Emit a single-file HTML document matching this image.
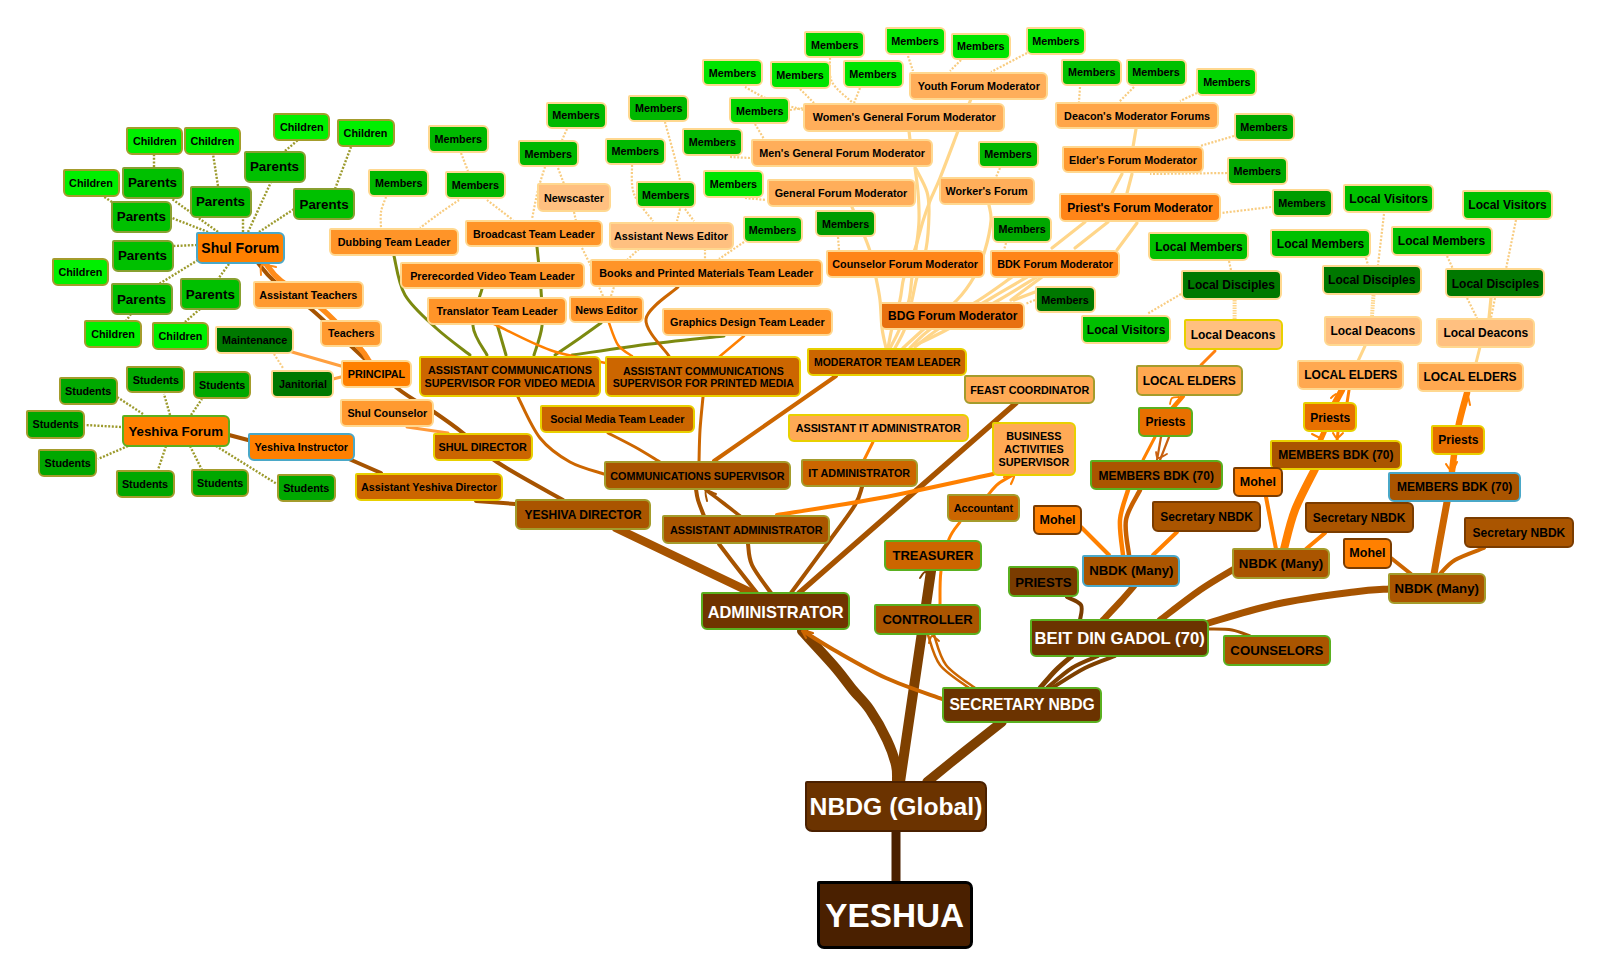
<!DOCTYPE html>
<html><head><meta charset="utf-8"><style>
html,body{margin:0;padding:0;background:#fff;}
body{width:1600px;height:973px;position:relative;overflow:hidden;font-family:"Liberation Sans",sans-serif;}
svg{position:absolute;left:0;top:0;}
.n{position:absolute;box-sizing:border-box;border:2.5px solid;border-radius:2px 6px 6px 6px;padding-top:1px;display:flex;align-items:center;justify-content:center;font-weight:bold;white-space:nowrap;text-align:center;line-height:1.18;color:#000;}
</style></head><body>

<svg width="1600" height="973" viewBox="0 0 1600 973">
<path d="M897.0 782.0 C896.8 779.2 897.7 772.0 896.0 765.0 C894.3 758.0 891.3 749.2 887.0 740.0 C882.7 730.8 875.7 718.3 870.0 710.0 C864.3 701.7 859.0 697.3 853.0 690.0 C847.0 682.7 842.5 675.8 834.0 666.0 C825.5 656.2 807.3 636.8 802.0 631.0" fill="none" stroke="#7e4000" stroke-width="10" stroke-linecap="round"/>
<path d="M900.0 782.0 L931.0 571.0" fill="none" stroke="#7e4000" stroke-width="10" stroke-linecap="round"/>
<path d="M927.0 782.0 C933.2 777.0 951.5 762.0 964.0 752.0 C976.5 742.0 995.7 727.0 1002.0 722.0" fill="none" stroke="#7e4000" stroke-width="9.5" stroke-linecap="round"/>
<path d="M896.0 832.0 L896.0 882.0" fill="none" stroke="#4a2000" stroke-width="9" stroke-linecap="round"/>
<path d="M1040.0 688.0 C1042.7 685.0 1050.7 675.3 1056.0 670.0 C1061.3 664.7 1069.3 658.3 1072.0 656.0" fill="none" stroke="#7e4000" stroke-width="5" stroke-linecap="round"/>
<path d="M1047.0 688.0 C1051.2 684.7 1063.5 673.3 1072.0 668.0 C1080.5 662.7 1093.7 658.0 1098.0 656.0" fill="none" stroke="#7e4000" stroke-width="4" stroke-linecap="round"/>
<path d="M1052.0 688.0 C1057.5 684.7 1074.5 673.3 1085.0 668.0 C1095.5 662.7 1110.0 658.0 1115.0 656.0" fill="none" stroke="#7e4000" stroke-width="4" stroke-linecap="round"/>
<path d="M969.0 688.0 C964.2 684.2 946.8 673.8 940.0 665.0 C933.2 656.2 930.0 640.0 928.0 635.0" fill="none" stroke="#cc6600" stroke-width="2.5" stroke-linecap="round"/>
<path d="M975.0 688.0 C970.2 684.2 952.8 673.8 946.0 665.0 C939.2 656.2 936.0 640.0 934.0 635.0" fill="none" stroke="#cc6600" stroke-width="2.5" stroke-linecap="round"/>
<path d="M942.0 699.0 C932.7 695.5 904.0 686.2 886.0 678.0 C868.0 669.8 847.8 657.8 834.0 650.0 C820.2 642.2 808.2 634.2 803.0 631.0" fill="none" stroke="#cc6600" stroke-width="4" stroke-linecap="round"/>
<path d="M1103.0 620.0 C1105.8 617.0 1114.8 607.7 1120.0 602.0 C1125.2 596.3 1131.7 588.7 1134.0 586.0" fill="none" stroke="#a65300" stroke-width="6.5" stroke-linecap="round"/>
<path d="M1160.0 620.0 C1166.7 615.0 1187.7 598.5 1200.0 590.0 C1212.3 581.5 1228.3 572.5 1234.0 569.0" fill="none" stroke="#a65300" stroke-width="6.5" stroke-linecap="round"/>
<path d="M1205.0 624.0 C1217.0 620.7 1252.2 609.3 1277.0 604.0 C1301.8 598.7 1335.3 594.5 1354.0 592.0 C1372.7 589.5 1383.2 589.5 1389.0 589.0" fill="none" stroke="#a65300" stroke-width="7" stroke-linecap="round"/>
<path d="M1209.0 629.0 C1212.8 629.2 1225.2 628.8 1232.0 630.0 C1238.8 631.2 1247.0 635.0 1250.0 636.0" fill="none" stroke="#a65300" stroke-width="3" stroke-linecap="round"/>
<path d="M1080.0 620.0 C1080.2 617.5 1083.2 608.8 1081.0 605.0 C1078.8 601.2 1069.3 598.3 1067.0 597.0" fill="none" stroke="#7a3c00" stroke-width="4" stroke-linecap="round"/>
<path d="M752.0 593.0 L616.0 528.0" fill="none" stroke="#a65300" stroke-width="8.5" stroke-linecap="round"/>
<path d="M563.0 500.0 C552.0 493.7 513.7 473.2 497.0 462.0 C480.3 450.8 473.5 441.3 463.0 433.0 C452.5 424.7 445.0 419.5 434.0 412.0 C423.0 404.5 410.8 399.0 397.0 388.0 C383.2 377.0 365.3 359.2 351.0 346.0 C336.7 332.8 323.8 319.8 311.0 309.0 C298.2 298.2 282.8 288.7 274.0 281.0 C265.2 273.3 260.7 266.0 258.0 263.0" fill="none" stroke="#a65300" stroke-width="4" stroke-linecap="round"/>
<path d="M369.0 361.0 C367.3 358.7 366.8 355.7 359.0 347.0 C351.2 338.3 335.0 320.0 322.0 309.0 C309.0 298.0 290.3 288.5 281.0 281.0 C271.7 273.5 268.5 266.8 266.0 264.0" fill="none" stroke="#ff8c1a" stroke-width="5.5" stroke-linecap="round"/>
<path d="M261.0 275.0 C261.2 273.3 259.5 266.3 262.0 265.0 C264.5 263.7 273.7 266.7 276.0 267.0" fill="none" stroke="#ff8c1a" stroke-width="2" stroke-linecap="round"/>
<path d="M757.0 593.0 C753.3 588.3 741.3 573.2 735.0 565.0 C728.7 556.8 721.7 547.5 719.0 544.0" fill="none" stroke="#a65300" stroke-width="4" stroke-linecap="round"/>
<path d="M771.0 593.0 C767.8 588.3 755.8 573.2 752.0 565.0 C748.2 556.8 748.7 547.5 748.0 544.0" fill="none" stroke="#a65300" stroke-width="4" stroke-linecap="round"/>
<path d="M704.0 516.0 C703.0 513.3 699.3 504.5 698.0 500.0 C696.7 495.5 696.3 490.8 696.0 489.0" fill="none" stroke="#a65300" stroke-width="4" stroke-linecap="round"/>
<path d="M740.0 516.0 C737.0 513.7 727.7 506.3 722.0 502.0 C716.3 497.7 708.7 492.0 706.0 490.0" fill="none" stroke="#a65300" stroke-width="3.5" stroke-linecap="round"/>
<path d="M791.0 593.0 C797.5 584.2 819.3 554.7 830.0 540.0 C840.7 525.3 849.7 513.8 855.0 505.0 C860.3 496.2 860.8 490.0 862.0 487.0" fill="none" stroke="#a65300" stroke-width="4" stroke-linecap="round"/>
<path d="M799.0 593.0 L1016.0 403.0" fill="none" stroke="#a65300" stroke-width="5.5" stroke-linecap="round"/>
<path d="M873.0 442.0 L864.0 460.0" fill="none" stroke="#ff8000" stroke-width="3" stroke-linecap="round"/>
<path d="M699.0 462.0 C699.2 456.7 699.3 440.8 700.0 430.0 C700.7 419.2 702.5 402.5 703.0 397.0" fill="none" stroke="#cc6600" stroke-width="3" stroke-linecap="round"/>
<path d="M714.0 461.0 L836.0 376.0" fill="none" stroke="#cc6600" stroke-width="4" stroke-linecap="round"/>
<path d="M660.0 462.0 C655.8 459.5 643.7 451.8 635.0 447.0 C626.3 442.2 612.5 435.3 608.0 433.0" fill="none" stroke="#cc6600" stroke-width="3" stroke-linecap="round"/>
<path d="M604.0 474.0 C598.3 472.0 580.7 468.0 570.0 462.0 C559.3 456.0 548.7 448.8 540.0 438.0 C531.3 427.2 521.7 403.8 518.0 397.0" fill="none" stroke="#cc6600" stroke-width="3" stroke-linecap="round"/>
<path d="M777.0 515.0 C794.2 512.2 844.0 504.8 880.0 498.0 C916.0 491.2 974.2 478.0 993.0 474.0" fill="none" stroke="#ff8000" stroke-width="4" stroke-linecap="round"/>
<path d="M988.0 495.0 C989.7 493.2 993.8 487.3 998.0 484.0 C1002.2 480.7 1010.5 476.5 1013.0 475.0" fill="none" stroke="#ff8000" stroke-width="3" stroke-linecap="round"/>
<path d="M940.0 604.0 C940.2 598.5 939.5 581.8 941.0 571.0 C942.5 560.2 945.8 547.2 949.0 539.0 C952.2 530.8 958.2 524.8 960.0 522.0" fill="none" stroke="#ff8000" stroke-width="3" stroke-linecap="round"/>
<path d="M707.0 501.0 C706.8 499.3 704.5 492.2 706.0 491.0 C707.5 489.8 714.3 493.5 716.0 494.0" fill="none" stroke="#a65300" stroke-width="2" stroke-linecap="round"/>
<path d="M806.0 638.0 C805.5 636.8 801.8 631.8 803.0 631.0 C804.2 630.2 811.3 632.7 813.0 633.0" fill="none" stroke="#cc6600" stroke-width="2.2" stroke-linecap="round"/>
<path d="M929.0 643.0 C929.5 641.8 930.3 636.3 932.0 636.0 C933.7 635.7 937.8 640.2 939.0 641.0" fill="none" stroke="#cc6600" stroke-width="2" stroke-linecap="round"/>
<path d="M1004.0 477.0 C1005.7 476.7 1012.8 473.8 1014.0 475.0 C1015.2 476.2 1011.5 482.5 1011.0 484.0" fill="none" stroke="#ff8000" stroke-width="2.2" stroke-linecap="round"/>
<path d="M920.0 578.0 C920.8 577.0 923.2 572.2 925.0 572.0 C926.8 571.8 930.0 576.2 931.0 577.0" fill="none" stroke="#7e4000" stroke-width="2" stroke-linecap="round"/>
<path d="M1462.0 404.0 C1462.8 402.3 1465.7 393.8 1467.0 394.0 C1468.3 394.2 1469.5 403.2 1470.0 405.0" fill="none" stroke="#ff8000" stroke-width="2" stroke-linecap="round"/>
<path d="M1446.0 464.0 C1447.0 465.2 1450.2 471.3 1452.0 471.0 C1453.8 470.7 1456.2 463.5 1457.0 462.0" fill="none" stroke="#ff8000" stroke-width="2" stroke-linecap="round"/>
<path d="M407.0 427.0 L448.0 433.0" fill="none" stroke="#ff9a3a" stroke-width="3" stroke-linecap="round"/>
<path d="M229.0 435.0 L248.0 440.0" fill="none" stroke="#a65300" stroke-width="4" stroke-linecap="round"/>
<path d="M349.0 459.0 L381.0 473.0" fill="none" stroke="#a65300" stroke-width="4" stroke-linecap="round"/>
<path d="M476.0 501.0 L515.0 504.0" fill="none" stroke="#a65300" stroke-width="4" stroke-linecap="round"/>
<path d="M341.0 366.0 L292.0 352.0" fill="none" stroke="#ffa040" stroke-width="3" stroke-linecap="round"/>
<path d="M341.0 377.0 L333.0 379.0" fill="none" stroke="#ffa040" stroke-width="3" stroke-linecap="round"/>
<path d="M394.0 256.0 C395.8 262.5 398.0 283.0 405.0 295.0 C412.0 307.0 425.2 318.0 436.0 328.0 C446.8 338.0 464.3 350.5 470.0 355.0" fill="none" stroke="#7c8a10" stroke-width="3" stroke-linecap="round"/>
<path d="M487.0 355.0 C484.7 350.2 473.8 337.0 473.0 326.0 C472.2 315.0 480.5 295.2 482.0 289.0" fill="none" stroke="#7c8a10" stroke-width="3" stroke-linecap="round"/>
<path d="M506.0 355.0 L497.0 324.0" fill="none" stroke="#7c8a10" stroke-width="3" stroke-linecap="round"/>
<path d="M534.0 355.0 C535.3 350.2 540.8 336.8 542.0 326.0 C543.2 315.2 541.8 303.2 541.0 290.0 C540.2 276.8 537.7 254.2 537.0 247.0" fill="none" stroke="#7c8a10" stroke-width="3" stroke-linecap="round"/>
<path d="M555.0 355.0 C559.2 352.2 572.3 343.3 580.0 338.0 C587.7 332.7 597.5 325.5 601.0 323.0" fill="none" stroke="#7c8a10" stroke-width="3" stroke-linecap="round"/>
<path d="M572.0 355.0 C585.0 353.2 624.7 347.2 650.0 344.0 C675.3 340.8 711.7 337.3 724.0 336.0" fill="none" stroke="#7c8a10" stroke-width="3" stroke-linecap="round"/>
<path d="M494.0 324.0 C503.3 328.3 531.3 343.5 550.0 350.0 C568.7 356.5 596.7 360.8 606.0 363.0" fill="none" stroke="#ff8000" stroke-width="2.5" stroke-linecap="round"/>
<path d="M609.0 323.0 C610.5 326.7 614.2 339.5 618.0 345.0 C621.8 350.5 629.7 354.2 632.0 356.0" fill="none" stroke="#ff8000" stroke-width="2.5" stroke-linecap="round"/>
<path d="M678.0 287.0 C672.7 292.3 647.5 307.5 646.0 319.0 C644.5 330.5 665.2 349.8 669.0 356.0" fill="none" stroke="#cc6600" stroke-width="3" stroke-linecap="round"/>
<path d="M744.0 336.0 L719.0 357.0" fill="none" stroke="#ff8000" stroke-width="2.5" stroke-linecap="round"/>
<path d="M971.0 99.0 L969.0 104.0" fill="none" stroke="#ffd68a" stroke-width="3.2" stroke-linecap="round"/>
<path d="M909.0 131.0 L910.0 140.0" fill="none" stroke="#ffd68a" stroke-width="3.2" stroke-linecap="round"/>
<path d="M1136.0 129.0 L1133.0 147.0" fill="none" stroke="#ffd68a" stroke-width="3.2" stroke-linecap="round"/>
<path d="M852.0 207.0 C854.8 213.8 865.0 236.2 869.0 248.0 C873.0 259.8 874.2 269.3 876.0 278.0 C877.8 286.7 879.0 291.7 880.0 300.0 C881.0 308.3 881.0 320.0 882.0 328.0 C883.0 336.0 885.3 344.7 886.0 348.0" fill="none" stroke="#ffd68a" stroke-width="3.2" stroke-linecap="round"/>
<path d="M958.0 131.0 C955.0 138.8 944.7 166.3 940.0 178.0 C935.3 189.7 932.8 193.8 930.0 201.0 C927.2 208.2 925.5 213.0 923.0 221.0 C920.5 229.0 918.2 239.7 915.0 249.0 C911.8 258.3 906.5 268.5 904.0 277.0 C901.5 285.5 902.0 291.5 900.0 300.0 C898.0 308.5 894.0 320.0 892.0 328.0 C890.0 336.0 888.7 344.7 888.0 348.0" fill="none" stroke="#ffd68a" stroke-width="3.2" stroke-linecap="round"/>
<path d="M915.0 168.0 C915.5 172.0 917.3 183.2 918.0 192.0 C918.7 200.8 919.3 211.5 919.0 221.0 C918.7 230.5 917.2 239.7 916.0 249.0 C914.8 258.3 913.2 268.5 912.0 277.0 C910.8 285.5 911.0 291.5 909.0 300.0 C907.0 308.5 903.2 320.0 900.0 328.0 C896.8 336.0 891.7 344.7 890.0 348.0" fill="none" stroke="#ffd68a" stroke-width="3.2" stroke-linecap="round"/>
<path d="M916.0 169.0 C917.8 172.8 924.8 184.5 927.0 192.0 C929.2 199.5 929.2 204.5 929.0 214.0 C928.8 223.5 928.0 238.5 926.0 249.0 C924.0 259.5 919.3 268.5 917.0 277.0 C914.7 285.5 914.0 291.5 912.0 300.0 C910.0 308.5 907.8 320.0 905.0 328.0 C902.2 336.0 896.7 344.7 895.0 348.0" fill="none" stroke="#ffd68a" stroke-width="3.2" stroke-linecap="round"/>
<path d="M989.0 205.0 C989.3 207.7 991.7 213.5 991.0 221.0 C990.3 228.5 987.8 240.7 985.0 250.0 C982.2 259.3 978.7 268.7 974.0 277.0 C969.3 285.3 965.2 291.5 957.0 300.0 C948.8 308.5 934.0 320.0 925.0 328.0 C916.0 336.0 906.7 344.7 903.0 348.0" fill="none" stroke="#ffd68a" stroke-width="3.2" stroke-linecap="round"/>
<path d="M1122.0 174.0 L1112.0 193.0" fill="none" stroke="#ffd68a" stroke-width="3.2" stroke-linecap="round"/>
<path d="M1132.0 174.0 L1127.0 193.0" fill="none" stroke="#ffd68a" stroke-width="3.2" stroke-linecap="round"/>
<path d="M1085.0 222.0 L1052.0 248.0" fill="none" stroke="#ffd68a" stroke-width="3.2" stroke-linecap="round"/>
<path d="M1108.0 222.0 L1075.0 248.0" fill="none" stroke="#ffd68a" stroke-width="3.2" stroke-linecap="round"/>
<path d="M1137.0 223.0 L1117.0 250.0" fill="none" stroke="#ffd68a" stroke-width="3.2" stroke-linecap="round"/>
<path d="M1012.0 277.0 C1006.5 280.8 992.3 291.5 979.0 300.0 C965.7 308.5 943.5 320.0 932.0 328.0 C920.5 336.0 913.7 344.7 910.0 348.0" fill="none" stroke="#ffd68a" stroke-width="3.2" stroke-linecap="round"/>
<path d="M1027.0 277.0 C1020.5 280.8 1002.5 291.5 988.0 300.0 C973.5 308.5 952.2 320.2 940.0 328.0 C927.8 335.8 919.2 343.8 915.0 347.0" fill="none" stroke="#ffd68a" stroke-width="3.2" stroke-linecap="round"/>
<path d="M1037.0 277.0 C1030.7 280.8 1013.5 291.5 999.0 300.0 C984.5 308.5 963.8 320.5 950.0 328.0 C936.2 335.5 921.7 342.2 916.0 345.0" fill="none" stroke="#ffd68a" stroke-width="3.2" stroke-linecap="round"/>
<path d="M1042.0 277.0 L1011.0 300.0" fill="none" stroke="#ffd68a" stroke-width="3.2" stroke-linecap="round"/>
<path d="M1035.0 292.0 L1014.0 300.0" fill="none" stroke="#ffd68a" stroke-width="3.2" stroke-linecap="round"/>
<path d="M1234.6 300.0 L1234.6 319.0" fill="none" stroke="#ffd68a" stroke-width="4" stroke-dasharray="1.5 1"/>
<path d="M1373.5 295.0 L1372.0 316.0" fill="none" stroke="#ffd68a" stroke-width="4" stroke-dasharray="1.5 1"/>
<path d="M1491.0 298.0 L1489.0 318.0" fill="none" stroke="#ffd68a" stroke-width="3.2" stroke-linecap="round"/>
<path d="M1215.0 351.0 L1201.0 365.0" fill="none" stroke="#ff8010" stroke-width="3" stroke-linecap="round"/>
<path d="M1365.0 346.0 L1358.0 361.0" fill="none" stroke="#ffd68a" stroke-width="3" stroke-linecap="round"/>
<path d="M1480.0 347.0 L1476.0 363.0" fill="none" stroke="#ffd68a" stroke-width="3" stroke-linecap="round"/>
<path d="M1183.0 396.0 L1171.0 410.0" fill="none" stroke="#ff8000" stroke-width="4.5" stroke-linecap="round"/>
<path d="M1170.0 404.0 C1170.3 403.0 1170.5 399.2 1172.0 398.0 C1173.5 396.8 1177.8 397.2 1179.0 397.0" fill="none" stroke="#ff8000" stroke-width="1.8" stroke-linecap="round"/>
<path d="M1155.0 437.0 L1143.0 460.0" fill="none" stroke="#ff8000" stroke-width="3" stroke-linecap="round"/>
<path d="M1161.0 437.0 L1157.0 460.0" fill="none" stroke="#c86010" stroke-width="2.2" stroke-linecap="round"/>
<path d="M1169.0 437.0 L1160.0 460.0" fill="none" stroke="#c86010" stroke-width="2.2" stroke-linecap="round"/>
<path d="M1156.0 452.0 C1156.3 453.0 1156.2 457.7 1158.0 458.0 C1159.8 458.3 1165.5 454.7 1167.0 454.0" fill="none" stroke="#c86010" stroke-width="1.8" stroke-linecap="round"/>
<path d="M1342.0 390.0 L1335.0 403.0" fill="none" stroke="#ff8000" stroke-width="6.5" stroke-linecap="round"/>
<path d="M1349.0 390.0 L1347.0 403.0" fill="none" stroke="#ff8000" stroke-width="3" stroke-linecap="round"/>
<path d="M1331.0 398.0 C1331.3 397.7 1332.2 396.7 1333.0 396.0 C1333.8 395.3 1335.5 394.3 1336.0 394.0" fill="none" stroke="#ff8000" stroke-width="2" stroke-linecap="round"/>
<path d="M1324.0 432.0 L1320.0 441.0" fill="none" stroke="#ff8000" stroke-width="5.5" stroke-linecap="round"/>
<path d="M1338.0 432.0 L1337.0 441.0" fill="none" stroke="#ff8000" stroke-width="3" stroke-linecap="round"/>
<path d="M1312.0 434.0 L1320.0 438.0" fill="none" stroke="#ff8000" stroke-width="2" stroke-linecap="round"/>
<path d="M1333.0 433.0 C1333.7 433.8 1335.3 438.0 1337.0 438.0 C1338.7 438.0 1342.0 433.8 1343.0 433.0" fill="none" stroke="#ff8000" stroke-width="2" stroke-linecap="round"/>
<path d="M1467.0 393.0 C1465.5 398.8 1460.5 415.0 1458.0 428.0 C1455.5 441.0 1453.0 463.8 1452.0 471.0" fill="none" stroke="#ff8000" stroke-width="6.5" stroke-linecap="round"/>
<path d="M1447.0 502.0 C1445.8 508.3 1442.2 528.0 1440.0 540.0 C1437.8 552.0 1435.0 568.3 1434.0 574.0" fill="none" stroke="#cc6600" stroke-width="7" stroke-linecap="round"/>
<path d="M1484.0 548.0 C1479.2 550.0 1462.3 555.7 1455.0 560.0 C1447.7 564.3 1442.5 571.7 1440.0 574.0" fill="none" stroke="#cc6600" stroke-width="4" stroke-linecap="round"/>
<path d="M1391.0 558.0 L1411.0 574.0" fill="none" stroke="#cc6600" stroke-width="4" stroke-linecap="round"/>
<path d="M1315.0 469.0 C1311.7 475.8 1300.2 496.7 1295.0 510.0 C1289.8 523.3 1285.8 542.5 1284.0 549.0" fill="none" stroke="#ff8000" stroke-width="8" stroke-linecap="round"/>
<path d="M1266.0 497.0 L1276.0 549.0" fill="none" stroke="#ff8000" stroke-width="4" stroke-linecap="round"/>
<path d="M1325.0 533.0 L1306.0 549.0" fill="none" stroke="#ff8000" stroke-width="4" stroke-linecap="round"/>
<path d="M1081.0 527.0 L1109.0 555.0" fill="none" stroke="#ff8000" stroke-width="4" stroke-linecap="round"/>
<path d="M1128.0 490.0 C1126.7 495.0 1120.8 509.2 1120.0 520.0 C1119.2 530.8 1122.5 549.2 1123.0 555.0" fill="none" stroke="#ff8000" stroke-width="4.5" stroke-linecap="round"/>
<path d="M1140.0 490.0 C1137.7 495.0 1127.8 509.2 1126.0 520.0 C1124.2 530.8 1128.5 549.2 1129.0 555.0" fill="none" stroke="#c86000" stroke-width="4.5" stroke-linecap="round"/>
<path d="M1177.0 532.0 L1153.0 555.0" fill="none" stroke="#ff8000" stroke-width="4" stroke-linecap="round"/>
<path d="M248.0 232.0 L271.0 182.0" fill="none" stroke="#9c9a2c" stroke-width="2.4" stroke-dasharray="2 1.6"/>
<path d="M259.0 232.0 L294.0 209.0" fill="none" stroke="#9c9a2c" stroke-width="2.4" stroke-dasharray="2 1.6"/>
<path d="M243.0 232.0 L243.0 217.0" fill="none" stroke="#9c9a2c" stroke-width="2.4" stroke-dasharray="2 1.6"/>
<path d="M218.0 232.0 L172.0 199.0" fill="none" stroke="#9c9a2c" stroke-width="2.4" stroke-dasharray="2 1.6"/>
<path d="M208.0 232.0 L172.0 218.0" fill="none" stroke="#9c9a2c" stroke-width="2.4" stroke-dasharray="2 1.6"/>
<path d="M197.0 245.0 L173.0 246.0" fill="none" stroke="#9c9a2c" stroke-width="2.4" stroke-dasharray="2 1.6"/>
<path d="M198.0 260.0 L159.0 284.0" fill="none" stroke="#9c9a2c" stroke-width="2.4" stroke-dasharray="2 1.6"/>
<path d="M229.0 264.0 L218.0 279.0" fill="none" stroke="#9c9a2c" stroke-width="2.4" stroke-dasharray="2 1.6"/>
<path d="M154.0 167.0 L154.0 155.0" fill="none" stroke="#9c9a2c" stroke-width="2.4" stroke-dasharray="2 1.6"/>
<path d="M218.0 186.0 L213.0 154.0" fill="none" stroke="#9c9a2c" stroke-width="2.4" stroke-dasharray="2 1.6"/>
<path d="M285.0 151.0 L298.0 140.0" fill="none" stroke="#9c9a2c" stroke-width="2.4" stroke-dasharray="2 1.6"/>
<path d="M335.0 189.0 L351.0 147.0" fill="none" stroke="#9c9a2c" stroke-width="2.4" stroke-dasharray="2 1.6"/>
<path d="M112.0 202.0 L103.0 196.0" fill="none" stroke="#9c9a2c" stroke-width="2.4" stroke-dasharray="2 1.6"/>
<path d="M131.0 314.0 L126.0 321.0" fill="none" stroke="#9c9a2c" stroke-width="2.4" stroke-dasharray="2 1.6"/>
<path d="M200.0 309.0 L185.0 322.0" fill="none" stroke="#9c9a2c" stroke-width="2.4" stroke-dasharray="2 1.6"/>
<path d="M143.0 414.0 L117.0 397.0" fill="none" stroke="#9c9a2c" stroke-width="2.4" stroke-dasharray="2 1.6"/>
<path d="M170.0 415.0 L164.0 394.0" fill="none" stroke="#9c9a2c" stroke-width="2.4" stroke-dasharray="2 1.6"/>
<path d="M191.0 415.0 L202.0 399.0" fill="none" stroke="#9c9a2c" stroke-width="2.4" stroke-dasharray="2 1.6"/>
<path d="M121.0 427.0 L85.0 425.0" fill="none" stroke="#9c9a2c" stroke-width="2.4" stroke-dasharray="2 1.6"/>
<path d="M128.0 446.0 L98.0 459.0" fill="none" stroke="#9c9a2c" stroke-width="2.4" stroke-dasharray="2 1.6"/>
<path d="M166.0 446.0 L158.0 470.0" fill="none" stroke="#9c9a2c" stroke-width="2.4" stroke-dasharray="2 1.6"/>
<path d="M190.0 446.0 L202.0 470.0" fill="none" stroke="#9c9a2c" stroke-width="2.4" stroke-dasharray="2 1.6"/>
<path d="M216.0 446.0 L277.0 484.0" fill="none" stroke="#9c9a2c" stroke-width="2.4" stroke-dasharray="2 1.6"/>
<path d="M386.0 197.0 C385.2 199.5 381.8 206.8 381.0 212.0 C380.2 217.2 381.0 225.3 381.0 228.0" fill="none" stroke="#f8cc80" stroke-width="2.2" stroke-dasharray="2 1.6"/>
<path d="M459.0 200.0 C455.8 202.2 446.5 208.3 440.0 213.0 C433.5 217.7 423.3 225.5 420.0 228.0" fill="none" stroke="#f8cc80" stroke-width="2.2" stroke-dasharray="2 1.6"/>
<path d="M487.0 200.0 C489.2 201.7 495.7 206.7 500.0 210.0 C504.3 213.3 510.8 218.3 513.0 220.0" fill="none" stroke="#f8cc80" stroke-width="2.2" stroke-dasharray="2 1.6"/>
<path d="M461.0 153.0 L468.0 171.0" fill="none" stroke="#f8cc80" stroke-width="2.2" stroke-dasharray="2 1.6"/>
<path d="M545.0 167.0 C543.8 170.8 540.2 181.3 538.0 190.0 C535.8 198.7 533.0 214.2 532.0 219.0" fill="none" stroke="#f8cc80" stroke-width="2.2" stroke-dasharray="2 1.6"/>
<path d="M558.0 168.0 L564.0 184.0" fill="none" stroke="#f8cc80" stroke-width="2.2" stroke-dasharray="2 1.6"/>
<path d="M567.0 129.0 L562.0 140.0" fill="none" stroke="#f8cc80" stroke-width="2.2" stroke-dasharray="2 1.6"/>
<path d="M574.0 212.0 L576.0 221.0" fill="none" stroke="#f8cc80" stroke-width="2.2" stroke-dasharray="2 1.6"/>
<path d="M582.0 248.0 L591.0 266.0" fill="none" stroke="#f8cc80" stroke-width="2.2" stroke-dasharray="2 1.6"/>
<path d="M603.0 296.0 L599.0 287.0" fill="none" stroke="#f8cc80" stroke-width="2.2" stroke-dasharray="2 1.6"/>
<path d="M611.0 296.0 L614.0 287.0" fill="none" stroke="#f8cc80" stroke-width="2.2" stroke-dasharray="2 1.6"/>
<path d="M665.0 122.0 C667.5 131.7 677.5 165.5 680.0 180.0 C682.5 194.5 680.0 204.2 680.0 209.0" fill="none" stroke="#f8cc80" stroke-width="2.2" stroke-dasharray="2 1.6"/>
<path d="M680.0 209.0 L677.0 221.0" fill="none" stroke="#f8cc80" stroke-width="2.2" stroke-dasharray="2 1.6"/>
<path d="M632.0 165.0 C632.3 169.8 630.5 184.7 634.0 194.0 C637.5 203.3 649.8 216.5 653.0 221.0" fill="none" stroke="#f8cc80" stroke-width="2.2" stroke-dasharray="2 1.6"/>
<path d="M685.0 209.0 L694.0 221.0" fill="none" stroke="#f8cc80" stroke-width="2.2" stroke-dasharray="2 1.6"/>
<path d="M730.0 157.0 L750.0 158.0" fill="none" stroke="#f8cc80" stroke-width="2.2" stroke-dasharray="2 1.6"/>
<path d="M755.0 124.0 L764.0 139.0" fill="none" stroke="#f8cc80" stroke-width="2.2" stroke-dasharray="2 1.6"/>
<path d="M745.0 198.0 L766.0 200.0" fill="none" stroke="#f8cc80" stroke-width="2.2" stroke-dasharray="2 1.6"/>
<path d="M745.0 87.0 C749.2 89.2 760.3 96.2 770.0 100.0 C779.7 103.8 797.5 108.3 803.0 110.0" fill="none" stroke="#f8cc80" stroke-width="2.2" stroke-dasharray="2 1.6"/>
<path d="M800.0 89.0 L814.0 103.0" fill="none" stroke="#f8cc80" stroke-width="2.2" stroke-dasharray="2 1.6"/>
<path d="M860.0 88.0 L854.0 103.0" fill="none" stroke="#f8cc80" stroke-width="2.2" stroke-dasharray="2 1.6"/>
<path d="M830.0 58.0 C830.3 62.0 828.2 74.5 832.0 82.0 C835.8 89.5 849.5 99.5 853.0 103.0" fill="none" stroke="#f8cc80" stroke-width="2.2" stroke-dasharray="2 1.6"/>
<path d="M908.0 56.0 L913.0 71.0" fill="none" stroke="#f8cc80" stroke-width="2.2" stroke-dasharray="2 1.6"/>
<path d="M961.0 60.0 L950.0 71.0" fill="none" stroke="#f8cc80" stroke-width="2.2" stroke-dasharray="2 1.6"/>
<path d="M1027.0 53.0 L991.0 72.0" fill="none" stroke="#f8cc80" stroke-width="2.2" stroke-dasharray="2 1.6"/>
<path d="M790.0 110.0 L804.0 108.0" fill="none" stroke="#f8cc80" stroke-width="2.2" stroke-dasharray="2 1.6"/>
<path d="M1080.0 87.0 L1079.0 102.0" fill="none" stroke="#f8cc80" stroke-width="2.2" stroke-dasharray="2 1.6"/>
<path d="M1134.0 87.0 L1119.0 102.0" fill="none" stroke="#f8cc80" stroke-width="2.2" stroke-dasharray="2 1.6"/>
<path d="M1197.0 93.0 L1180.0 101.0" fill="none" stroke="#f8cc80" stroke-width="2.2" stroke-dasharray="2 1.6"/>
<path d="M1234.0 136.0 L1200.0 146.0" fill="none" stroke="#f8cc80" stroke-width="2.2" stroke-dasharray="2 1.6"/>
<path d="M1227.0 173.0 L1150.0 174.0" fill="none" stroke="#f8cc80" stroke-width="2.2" stroke-dasharray="2 1.6"/>
<path d="M1271.0 207.0 L1221.0 213.0" fill="none" stroke="#f8cc80" stroke-width="2.2" stroke-dasharray="2 1.6"/>
<path d="M1000.0 168.0 L996.0 177.0" fill="none" stroke="#f8cc80" stroke-width="2.2" stroke-dasharray="2 1.6"/>
<path d="M1006.0 243.0 L1004.0 250.0" fill="none" stroke="#f8cc80" stroke-width="2.2" stroke-dasharray="2 1.6"/>
<path d="M1035.0 300.0 L1025.0 304.0" fill="none" stroke="#f8cc80" stroke-width="2.2" stroke-dasharray="2 1.6"/>
<path d="M639.0 249.0 L627.0 260.0" fill="none" stroke="#f8cc80" stroke-width="2.2" stroke-dasharray="2 1.6"/>
<path d="M705.0 249.0 L705.0 260.0" fill="none" stroke="#f8cc80" stroke-width="2.2" stroke-dasharray="2 1.6"/>
<path d="M1181.0 294.0 L1147.0 314.0" fill="none" stroke="#f8cc80" stroke-width="2.2" stroke-dasharray="2 1.6"/>
<path d="M1384.0 214.0 L1378.0 265.0" fill="none" stroke="#f8cc80" stroke-width="2.2" stroke-dasharray="2 1.6"/>
<path d="M1366.0 258.0 L1368.0 265.0" fill="none" stroke="#f8cc80" stroke-width="2.2" stroke-dasharray="2 1.6"/>
<path d="M1516.0 220.0 L1506.0 269.0" fill="none" stroke="#f8cc80" stroke-width="2.2" stroke-dasharray="2 1.6"/>
<path d="M1447.0 256.0 L1453.0 269.0" fill="none" stroke="#f8cc80" stroke-width="2.2" stroke-dasharray="2 1.6"/>
<path d="M1467.0 298.0 L1477.0 318.0" fill="none" stroke="#f8cc80" stroke-width="2.2" stroke-dasharray="2 1.6"/>
<path d="M1495.0 298.0 L1491.0 318.0" fill="none" stroke="#f8cc80" stroke-width="2.2" stroke-dasharray="2 1.6"/>
<path d="M1229.0 261.0 L1231.0 270.0" fill="none" stroke="#f8cc80" stroke-width="2.2" stroke-dasharray="2 1.6"/>
<path d="M274.0 354.0 L283.0 368.0" fill="none" stroke="#f8cc80" stroke-width="2.2" stroke-dasharray="2 1.6"/>
<path d="M838.0 237.0 L839.0 250.0" fill="none" stroke="#f8cc80" stroke-width="2.2" stroke-dasharray="2 1.6"/>
<path d="M744.0 242.0 L719.0 259.0" fill="none" stroke="#f8cc80" stroke-width="2.2" stroke-dasharray="2 1.6"/>
</svg>
<div class="n" style="left:126.10px;top:127.20px;width:57.40px;height:28.00px;background:#00f000;border-color:#a49c2c;font-size:10.8px">Children</div>
<div class="n" style="left:183.50px;top:126.50px;width:57.70px;height:28.00px;background:#00f000;border-color:#a49c2c;font-size:10.8px">Children</div>
<div class="n" style="left:273.10px;top:112.90px;width:57.40px;height:28.20px;background:#00f000;border-color:#a49c2c;font-size:10.8px">Children</div>
<div class="n" style="left:336.50px;top:118.90px;width:58.00px;height:28.60px;background:#00f000;border-color:#a49c2c;font-size:10.8px">Children</div>
<div class="n" style="left:62.50px;top:168.50px;width:57.00px;height:28.00px;background:#00f000;border-color:#a49c2c;font-size:10.8px">Children</div>
<div class="n" style="left:121.50px;top:166.50px;width:62.00px;height:32.00px;background:#00c000;border-color:#88a030;font-size:13.4px">Parents</div>
<div class="n" style="left:189.50px;top:185.50px;width:62.00px;height:32.00px;background:#00c000;border-color:#88a030;font-size:13.4px">Parents</div>
<div class="n" style="left:243.50px;top:150.50px;width:62.00px;height:32.00px;background:#00c000;border-color:#88a030;font-size:13.4px">Parents</div>
<div class="n" style="left:293.10px;top:188.10px;width:61.90px;height:32.40px;background:#00c000;border-color:#88a030;font-size:13.4px">Parents</div>
<div class="n" style="left:110.50px;top:201.00px;width:61.60px;height:31.50px;background:#00c000;border-color:#88a030;font-size:13.4px">Parents</div>
<div class="n" style="left:196.00px;top:231.50px;width:88.50px;height:32.60px;background:#ff8000;border-color:#4aa8c8;font-size:14px">Shul Forum</div>
<div class="n" style="left:111.50px;top:239.50px;width:62.00px;height:32.00px;background:#00c000;border-color:#88a030;font-size:13.4px">Parents</div>
<div class="n" style="left:51.50px;top:257.50px;width:57.70px;height:28.00px;background:#00f000;border-color:#a49c2c;font-size:10.8px">Children</div>
<div class="n" style="left:110.50px;top:283.20px;width:62.00px;height:31.80px;background:#00c000;border-color:#88a030;font-size:13.4px">Parents</div>
<div class="n" style="left:179.50px;top:278.00px;width:61.70px;height:31.90px;background:#00c000;border-color:#88a030;font-size:13.4px">Parents</div>
<div class="n" style="left:84.30px;top:320.10px;width:57.50px;height:27.90px;background:#00f000;border-color:#a49c2c;font-size:10.8px">Children</div>
<div class="n" style="left:151.80px;top:322.10px;width:57.30px;height:28.00px;background:#00f000;border-color:#a49c2c;font-size:10.8px">Children</div>
<div class="n" style="left:214.80px;top:326.00px;width:79.70px;height:27.50px;background:#007800;border-color:#ffd890;font-size:10.8px">Maintenance</div>
<div class="n" style="left:271.30px;top:369.50px;width:63.20px;height:28.00px;background:#007800;border-color:#ffd890;font-size:10.8px">Janitorial</div>
<div class="n" style="left:252.50px;top:280.50px;width:111.50px;height:28.00px;background:#ff9a30;border-color:#ffd890;font-size:10.8px">Assistant Teachers</div>
<div class="n" style="left:320.10px;top:319.50px;width:62.40px;height:27.40px;background:#ff9a30;border-color:#ffd890;font-size:10.8px">Teachers</div>
<div class="n" style="left:341.30px;top:359.50px;width:70.40px;height:28.00px;background:#ff8000;border-color:#ffd890;font-size:10.8px">PRINCIPAL</div>
<div class="n" style="left:340.30px;top:398.90px;width:94.00px;height:28.00px;background:#ff9a30;border-color:#ffd890;font-size:10.8px">Shul Counselor</div>
<div class="n" style="left:432.50px;top:432.90px;width:100.40px;height:28.00px;background:#cc6600;border-color:#e8d000;font-size:10.8px">SHUL DIRECTOR</div>
<div class="n" style="left:58.50px;top:376.50px;width:59.40px;height:28.60px;background:#00a800;border-color:#a49c2c;font-size:10.8px">Students</div>
<div class="n" style="left:126.20px;top:365.80px;width:59.30px;height:27.70px;background:#00a800;border-color:#a49c2c;font-size:10.8px">Students</div>
<div class="n" style="left:192.90px;top:370.90px;width:58.60px;height:28.60px;background:#00a800;border-color:#a49c2c;font-size:10.8px">Students</div>
<div class="n" style="left:26.00px;top:410.00px;width:59.30px;height:28.50px;background:#00a800;border-color:#a49c2c;font-size:10.8px">Students</div>
<div class="n" style="left:121.50px;top:415.10px;width:108.40px;height:31.90px;background:#ff8000;border-color:#5ab020;font-size:13.3px">Yeshiva Forum</div>
<div class="n" style="left:38.00px;top:448.50px;width:59.40px;height:28.00px;background:#00a800;border-color:#a49c2c;font-size:10.8px">Students</div>
<div class="n" style="left:115.50px;top:469.50px;width:59.00px;height:28.30px;background:#00a800;border-color:#a49c2c;font-size:10.8px">Students</div>
<div class="n" style="left:190.90px;top:469.10px;width:58.60px;height:28.40px;background:#00a800;border-color:#a49c2c;font-size:10.8px">Students</div>
<div class="n" style="left:277.00px;top:473.50px;width:58.50px;height:28.00px;background:#00a800;border-color:#a49c2c;font-size:10.8px">Students</div>
<div class="n" style="left:247.50px;top:432.50px;width:107.50px;height:28.60px;background:#ff8000;border-color:#4aa8c8;font-size:10.8px">Yeshiva Instructor</div>
<div class="n" style="left:354.90px;top:472.70px;width:148.00px;height:28.50px;background:#cc6600;border-color:#e8d000;font-size:10.8px">Assistant Yeshiva Director</div>
<div class="n" style="left:515.00px;top:498.50px;width:136.30px;height:31.20px;background:#aa5500;border-color:#a49c2c;font-size:12px">YESHIVA DIRECTOR</div>
<div class="n" style="left:368.30px;top:169.10px;width:61.00px;height:28.00px;background:#00b800;border-color:#ffd890;font-size:10.8px">Members</div>
<div class="n" style="left:427.50px;top:124.90px;width:61.40px;height:28.20px;background:#00b800;border-color:#ffd890;font-size:10.8px">Members</div>
<div class="n" style="left:444.50px;top:170.50px;width:61.70px;height:28.00px;background:#00b800;border-color:#ffd890;font-size:10.8px">Members</div>
<div class="n" style="left:517.50px;top:139.50px;width:61.40px;height:27.80px;background:#00b800;border-color:#ffd890;font-size:10.8px">Members</div>
<div class="n" style="left:545.50px;top:101.50px;width:61.00px;height:27.50px;background:#00b800;border-color:#ffd890;font-size:10.8px">Members</div>
<div class="n" style="left:628.10px;top:94.50px;width:61.40px;height:27.00px;background:#00b800;border-color:#ffd890;font-size:10.8px">Members</div>
<div class="n" style="left:605.00px;top:137.50px;width:60.50px;height:27.50px;background:#00b800;border-color:#ffd890;font-size:10.8px">Members</div>
<div class="n" style="left:681.80px;top:128.30px;width:61.10px;height:27.60px;background:#00b800;border-color:#ffd890;font-size:10.8px">Members</div>
<div class="n" style="left:635.50px;top:181.30px;width:60.60px;height:27.20px;background:#00b800;border-color:#ffd890;font-size:10.8px">Members</div>
<div class="n" style="left:742.50px;top:216.00px;width:60.00px;height:27.20px;background:#00b800;border-color:#ffd890;font-size:10.8px">Members</div>
<div class="n" style="left:815.30px;top:210.10px;width:60.60px;height:27.40px;background:#009c00;border-color:#ffd890;font-size:10.8px">Members</div>
<div class="n" style="left:537.30px;top:183.20px;width:73.50px;height:28.90px;background:#ffc080;border-color:#ffd890;font-size:10.8px">Newscaster</div>
<div class="n" style="left:329.00px;top:228.00px;width:130.20px;height:27.70px;background:#ff9428;border-color:#ffd890;font-size:10.8px">Dubbing Team Leader</div>
<div class="n" style="left:464.50px;top:220.30px;width:138.60px;height:27.20px;background:#ff9428;border-color:#ffd890;font-size:10.8px">Broadcast Team Leader</div>
<div class="n" style="left:608.50px;top:221.90px;width:125.00px;height:28.00px;background:#ffc080;border-color:#ffd890;font-size:10.8px">Assistant News Editor</div>
<div class="n" style="left:399.90px;top:261.90px;width:185.20px;height:27.50px;background:#ff9428;border-color:#ffd890;font-size:10.8px">Prerecorded Video Team Leader</div>
<div class="n" style="left:589.80px;top:259.20px;width:233.00px;height:28.00px;background:#ff9428;border-color:#ffd890;font-size:10.8px">Books and Printed Materials Team Leader</div>
<div class="n" style="left:426.90px;top:296.50px;width:140.20px;height:28.00px;background:#ff9428;border-color:#ffd890;font-size:10.8px">Translator Team Leader</div>
<div class="n" style="left:568.50px;top:295.80px;width:75.70px;height:27.50px;background:#ff9428;border-color:#ffd890;font-size:10.8px">News Editor</div>
<div class="n" style="left:661.70px;top:308.00px;width:171.30px;height:28.00px;background:#ff9428;border-color:#ffd890;font-size:10.8px">Graphics Design Team Leader</div>
<div class="n" style="left:418.50px;top:355.50px;width:182.80px;height:41.00px;background:#cc6600;border-color:#e8d000;font-size:10.8px">ASSISTANT COMMUNICATIONS<br>SUPERVISOR FOR VIDEO MEDIA</div>
<div class="n" style="left:605.20px;top:356.10px;width:196.30px;height:41.40px;background:#cc6600;border-color:#e8d000;font-size:10.6px">ASSISTANT COMMUNICATIONS<br>SUPERVISOR FOR PRINTED MEDIA</div>
<div class="n" style="left:539.50px;top:405.20px;width:155.50px;height:28.20px;background:#cc6600;border-color:#e8d000;font-size:10.8px">Social Media Team Leader</div>
<div class="n" style="left:603.90px;top:461.20px;width:187.00px;height:28.50px;background:#aa5500;border-color:#a49c2c;font-size:10.8px">COMMUNICATIONS SUPERVISOR</div>
<div class="n" style="left:662.30px;top:515.20px;width:167.90px;height:29.00px;background:#aa5500;border-color:#a49c2c;font-size:10.8px">ASSISTANT ADMINISTRATOR</div>
<div class="n" style="left:701.00px;top:592.00px;width:149.30px;height:37.70px;background:#703400;border-color:#5ab020;font-size:16.4px;color:#fff;padding-top:4.0px">ADMINISTRATOR</div>
<div class="n" style="left:702.00px;top:58.90px;width:61.00px;height:27.60px;background:#00e400;border-color:#ffd890;font-size:10.8px">Members</div>
<div class="n" style="left:769.50px;top:61.30px;width:61.00px;height:27.60px;background:#00e400;border-color:#ffd890;font-size:10.8px">Members</div>
<div class="n" style="left:804.20px;top:30.70px;width:61.00px;height:27.80px;background:#00d400;border-color:#ffd890;font-size:10.8px">Members</div>
<div class="n" style="left:842.50px;top:60.20px;width:61.00px;height:27.80px;background:#00e400;border-color:#ffd890;font-size:10.8px">Members</div>
<div class="n" style="left:884.50px;top:26.50px;width:61.00px;height:28.00px;background:#00e400;border-color:#ffd890;font-size:10.8px">Members</div>
<div class="n" style="left:950.50px;top:32.50px;width:60.50px;height:27.60px;background:#00e400;border-color:#ffd890;font-size:10.8px">Members</div>
<div class="n" style="left:1025.50px;top:27.20px;width:60.70px;height:27.80px;background:#00e400;border-color:#ffd890;font-size:10.8px">Members</div>
<div class="n" style="left:729.20px;top:96.90px;width:61.00px;height:27.60px;background:#00d400;border-color:#ffd890;font-size:10.8px">Members</div>
<div class="n" style="left:702.90px;top:169.50px;width:61.00px;height:28.20px;background:#00e400;border-color:#ffd890;font-size:10.8px">Members</div>
<div class="n" style="left:909.20px;top:71.50px;width:139.30px;height:28.00px;background:#ffae5a;border-color:#ffd890;font-size:10.8px">Youth Forum Moderator</div>
<div class="n" style="left:803.20px;top:103.00px;width:202.10px;height:28.50px;background:#ffae5a;border-color:#ffd890;font-size:10.8px">Women's General Forum Moderator</div>
<div class="n" style="left:750.80px;top:139.10px;width:182.70px;height:28.20px;background:#ffae5a;border-color:#ffd890;font-size:10.8px">Men's General Forum Moderator</div>
<div class="n" style="left:766.50px;top:178.50px;width:149.00px;height:28.80px;background:#ffae5a;border-color:#ffd890;font-size:10.8px">General Forum Moderator</div>
<div class="n" style="left:938.50px;top:176.50px;width:96.00px;height:28.00px;background:#ffae5a;border-color:#ffd890;font-size:10.8px">Worker's Forum</div>
<div class="n" style="left:977.50px;top:140.50px;width:61.00px;height:27.50px;background:#00b800;border-color:#ffd890;font-size:10.8px">Members</div>
<div class="n" style="left:992.00px;top:215.50px;width:60.20px;height:27.70px;background:#00a800;border-color:#ffd890;font-size:10.8px">Members</div>
<div class="n" style="left:1061.30px;top:58.50px;width:60.90px;height:27.60px;background:#00c000;border-color:#ffd890;font-size:10.8px">Members</div>
<div class="n" style="left:1125.50px;top:58.50px;width:61.00px;height:27.60px;background:#00c000;border-color:#ffd890;font-size:10.8px">Members</div>
<div class="n" style="left:1196.20px;top:67.50px;width:61.30px;height:28.20px;background:#00d400;border-color:#ffd890;font-size:10.8px">Members</div>
<div class="n" style="left:1055.20px;top:102.10px;width:163.80px;height:27.40px;background:#ffa548;border-color:#ffd890;font-size:10.8px">Deacon's Moderator Forums</div>
<div class="n" style="left:1062.10px;top:145.90px;width:141.90px;height:27.60px;background:#ff9a30;border-color:#ffd890;font-size:10.8px">Elder's Forum Moderator</div>
<div class="n" style="left:1233.50px;top:113.20px;width:61.00px;height:28.00px;background:#00a800;border-color:#ffd890;font-size:10.8px">Members</div>
<div class="n" style="left:1226.50px;top:156.50px;width:61.40px;height:28.00px;background:#00a800;border-color:#ffd890;font-size:10.8px">Members</div>
<div class="n" style="left:1058.50px;top:192.50px;width:162.80px;height:29.70px;background:#ff8518;border-color:#ffd890;font-size:12px">Priest's Forum Moderator</div>
<div class="n" style="left:1271.50px;top:188.50px;width:61.00px;height:28.00px;background:#009c00;border-color:#ffd890;font-size:10.8px">Members</div>
<div class="n" style="left:825.50px;top:249.50px;width:159.40px;height:28.00px;background:#ff8518;border-color:#ffd890;font-size:10.8px">Counselor Forum Moderator</div>
<div class="n" style="left:990.30px;top:249.50px;width:129.50px;height:28.00px;background:#ff8518;border-color:#ffd890;font-size:10.8px">BDK Forum Moderator</div>
<div class="n" style="left:1034.50px;top:286.20px;width:61.00px;height:27.30px;background:#007800;border-color:#ffd890;font-size:10.8px">Members</div>
<div class="n" style="left:880.10px;top:301.50px;width:145.40px;height:28.60px;background:#e87010;border-color:#ffd890;font-size:12px">BDG Forum Moderator</div>
<div class="n" style="left:807.40px;top:348.30px;width:159.70px;height:27.50px;background:#cc6600;border-color:#e8d000;font-size:10.5px">MODERATOR TEAM LEADER</div>
<div class="n" style="left:964.10px;top:375.20px;width:131.30px;height:28.70px;background:#ffaa55;border-color:#a49c2c;font-size:10.8px">FEAST COORDINATOR</div>
<div class="n" style="left:787.50px;top:413.50px;width:181.50px;height:28.40px;background:#ffaa55;border-color:#e8d000;font-size:10.8px">ASSISTANT IT ADMINISTRATOR</div>
<div class="n" style="left:801.00px;top:459.10px;width:116.50px;height:28.40px;background:#cc6600;border-color:#a49c2c;font-size:10.8px">IT ADMINISTRATOR</div>
<div class="n" style="left:991.50px;top:421.50px;width:84.80px;height:54.50px;background:#ffaa55;border-color:#e8d000;font-size:10.8px">BUSINESS<br>ACTIVITIES<br>SUPERVISOR</div>
<div class="n" style="left:946.90px;top:494.10px;width:72.90px;height:28.00px;background:#cc6600;border-color:#a49c2c;font-size:10.8px">Accountant</div>
<div class="n" style="left:883.50px;top:539.50px;width:98.80px;height:31.50px;background:#cc6600;border-color:#5ab020;font-size:13px">TREASURER</div>
<div class="n" style="left:874.00px;top:603.50px;width:107.10px;height:31.70px;background:#aa5500;border-color:#5ab020;font-size:13px">CONTROLLER</div>
<div class="n" style="left:1008.00px;top:566.10px;width:70.70px;height:31.40px;background:#7a3c00;border-color:#5ab020;font-size:13.2px">PRIESTS</div>
<div class="n" style="left:1029.80px;top:619.20px;width:179.70px;height:37.50px;background:#6b3300;border-color:#5ab020;font-size:16.7px;color:#fff">BEIT DIN GADOL (70)</div>
<div class="n" style="left:1223.10px;top:634.80px;width:107.60px;height:31.30px;background:#aa5500;border-color:#5ab020;font-size:13.2px">COUNSELORS</div>
<div class="n" style="left:941.90px;top:687.20px;width:160.30px;height:35.70px;background:#6b3300;border-color:#5ab020;font-size:15.7px;color:#fff">SECRETARY NBDG</div>
<div class="n" style="left:805.20px;top:781.20px;width:181.60px;height:50.60px;background:#6b3300;border-color:#4a2000;font-size:24.7px;color:#fff;border-width:2px;border-radius:2px 7px 7px 7px">NBDG (Global)</div>
<div class="n" style="left:816.80px;top:881.40px;width:155.90px;height:67.30px;background:#4a2000;border-color:#000;font-size:33.3px;color:#fff;border-width:3px;border-radius:2px 7px 7px 7px">YESHUA</div>
<div class="n" style="left:1343.10px;top:183.90px;width:91.00px;height:29.60px;background:#00c000;border-color:#ffd890;font-size:12px">Local Visitors</div>
<div class="n" style="left:1462.10px;top:189.50px;width:90.90px;height:30.00px;background:#00c000;border-color:#ffd890;font-size:12px">Local Visitors</div>
<div class="n" style="left:1148.30px;top:231.50px;width:101.20px;height:29.50px;background:#00c000;border-color:#ffd890;font-size:12px">Local Members</div>
<div class="n" style="left:1270.00px;top:228.50px;width:101.10px;height:29.60px;background:#00c000;border-color:#ffd890;font-size:12px">Local Members</div>
<div class="n" style="left:1390.50px;top:225.50px;width:102.00px;height:30.00px;background:#00c000;border-color:#ffd890;font-size:12px">Local Members</div>
<div class="n" style="left:1181.00px;top:270.00px;width:100.50px;height:30.00px;background:#007800;border-color:#ffd890;font-size:12px">Local Disciples</div>
<div class="n" style="left:1321.50px;top:264.90px;width:100.50px;height:29.80px;background:#007800;border-color:#ffd890;font-size:12px">Local Disciples</div>
<div class="n" style="left:1445.40px;top:268.30px;width:100.10px;height:29.70px;background:#007800;border-color:#ffd890;font-size:12px">Local Disciples</div>
<div class="n" style="left:1081.00px;top:314.50px;width:90.20px;height:29.20px;background:#00c000;border-color:#ffd890;font-size:12px">Local Visitors</div>
<div class="n" style="left:1183.50px;top:318.80px;width:99.00px;height:31.30px;background:#ffc080;border-color:#e8d000;font-size:12px">Local Deacons</div>
<div class="n" style="left:1323.50px;top:315.80px;width:98.50px;height:30.30px;background:#ffc080;border-color:#ffd890;font-size:12px">Local Deacons</div>
<div class="n" style="left:1436.40px;top:317.50px;width:98.80px;height:30.00px;background:#ffc080;border-color:#ffd890;font-size:12px">Local Deacons</div>
<div class="n" style="left:1135.50px;top:365.00px;width:107.50px;height:30.50px;background:#ffa850;border-color:#a49c2c;font-size:12px">LOCAL ELDERS</div>
<div class="n" style="left:1297.10px;top:359.50px;width:107.40px;height:30.50px;background:#ffa850;border-color:#ffd890;font-size:12px">LOCAL ELDERS</div>
<div class="n" style="left:1416.50px;top:361.80px;width:107.00px;height:30.50px;background:#ffa850;border-color:#ffd890;font-size:12px">LOCAL ELDERS</div>
<div class="n" style="left:1138.20px;top:406.70px;width:54.50px;height:30.30px;background:#e87000;border-color:#5ab020;font-size:12px">Priests</div>
<div class="n" style="left:1303.00px;top:401.80px;width:54.30px;height:30.70px;background:#e87000;border-color:#e8d000;font-size:12px">Priests</div>
<div class="n" style="left:1431.20px;top:424.50px;width:54.30px;height:30.80px;background:#e87000;border-color:#e8d000;font-size:12px">Priests</div>
<div class="n" style="left:1089.90px;top:459.90px;width:132.80px;height:30.60px;background:#aa5500;border-color:#5ab020;font-size:12px">MEMBERS BDK (70)</div>
<div class="n" style="left:1269.50px;top:439.50px;width:132.70px;height:30.60px;background:#aa5500;border-color:#e8d000;font-size:12px">MEMBERS BDK (70)</div>
<div class="n" style="left:1388.30px;top:471.50px;width:132.80px;height:30.70px;background:#aa5500;border-color:#4aa8c8;font-size:12px">MEMBERS BDK (70)</div>
<div class="n" style="left:1032.80px;top:504.50px;width:49.50px;height:30.40px;background:#ff8000;border-color:#7a3c00;font-size:12.5px">Mohel</div>
<div class="n" style="left:1233.00px;top:466.50px;width:49.70px;height:30.70px;background:#ff8000;border-color:#7a3c00;font-size:12.5px">Mohel</div>
<div class="n" style="left:1342.90px;top:538.00px;width:49.00px;height:30.70px;background:#ff8000;border-color:#7a3c00;font-size:12.5px">Mohel</div>
<div class="n" style="left:1151.80px;top:501.00px;width:109.50px;height:31.10px;background:#aa5500;border-color:#7a3c00;font-size:12px">Secretary NBDK</div>
<div class="n" style="left:1304.50px;top:502.00px;width:109.20px;height:30.70px;background:#aa5500;border-color:#7a3c00;font-size:12px">Secretary NBDK</div>
<div class="n" style="left:1464.10px;top:517.10px;width:109.70px;height:30.80px;background:#aa5500;border-color:#7a3c00;font-size:12px">Secretary NBDK</div>
<div class="n" style="left:1082.20px;top:554.50px;width:98.30px;height:32.40px;background:#aa5500;border-color:#4aa8c8;font-size:13.2px">NBDK (Many)</div>
<div class="n" style="left:1232.10px;top:548.00px;width:97.80px;height:31.20px;background:#aa5500;border-color:#a49c2c;font-size:13.2px">NBDK (Many)</div>
<div class="n" style="left:1387.80px;top:573.10px;width:97.90px;height:31.10px;background:#aa5500;border-color:#a49c2c;font-size:13.2px">NBDK (Many)</div>
</body></html>
